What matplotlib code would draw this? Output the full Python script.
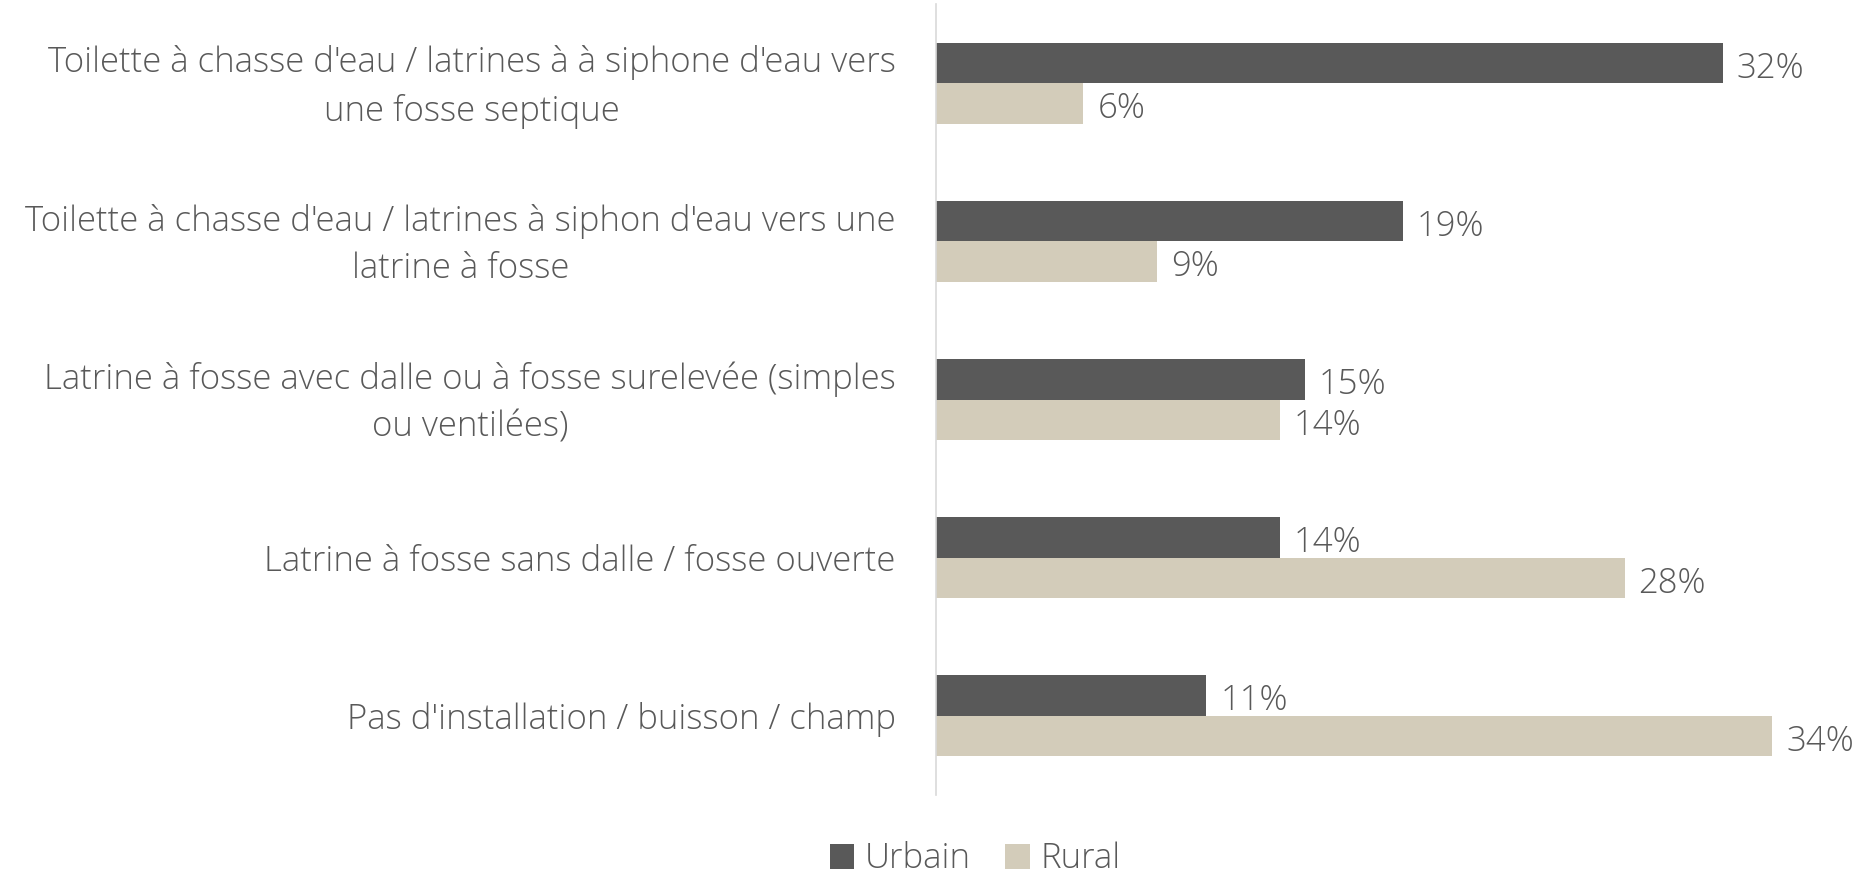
"""Horizontal grouped bars: type of sanitation facility, urban vs rural."""

import matplotlib

matplotlib.use("Agg")
import matplotlib.pyplot as plt
from matplotlib import font_manager
from matplotlib.transforms import ScaledTranslation
import numpy as np

CATEGORIES = [
    "Toilette à chasse d'eau / latrines à à siphone d'eau vers\nune fosse septique",
    "Toilette à chasse d'eau / latrines à siphon d'eau vers une\nlatrine à fosse",
    "Latrine à fosse avec dalle ou à fosse surelevée (simples\nou ventilées)",
    "Latrine à fosse sans dalle / fosse ouverte",
    "Pas d'installation / buisson / champ",
]
URBAIN = [32, 19, 15, 14, 11]
RURAL = [6, 9, 14, 28, 34]
SERIES = ["Urbain", "Rural"]

COLOR_URBAIN = "#595959"
COLOR_RURAL = "#D3CCBA"
TEXT_COLOR = "#595959"

# prefer a family that ships a light weight (closest to Segoe UI Light)
FAMILY = "DejaVu Sans"
for fam in ["Open Sans", "Lato", "Noto Sans", "Roboto", "Inter"]:
    weights = [f.weight for f in font_manager.fontManager.ttflist if f.name == fam]
    if any(isinstance(w, int) and w <= 300 for w in weights):
        FAMILY = fam
        break
else:
    names = {f.name for f in font_manager.fontManager.ttflist}
    if "Open Sans" in names:
        FAMILY = "Open Sans"

plt.rcParams["font.family"] = [FAMILY, "DejaVu Sans"]
plt.rcParams["font.weight"] = "light"

FS = 25

fig = plt.figure(figsize=(18.68, 8.75), dpi=100)
ax = fig.add_axes([0.501, 0.0914, 0.474, 0.904])

y = np.arange(len(CATEGORIES))
h = 0.256
bars_u = ax.barh(y - h / 2, URBAIN, height=h, color=COLOR_URBAIN, label=SERIES[0])
bars_r = ax.barh(y + h / 2, RURAL, height=h, color=COLOR_RURAL, label=SERIES[1])

for bars, vals in ((bars_u, URBAIN), (bars_r, RURAL)):
    for b, v in zip(bars, vals):
        ax.annotate(
            f"{v}%",
            (b.get_width(), b.get_y() + b.get_height() / 2),
            xytext=(10, -4),
            textcoords="offset points",
            ha="left",
            va="center",
            fontsize=FS,
            color=TEXT_COLOR,
            fontweight="light",
        )

ax.set_xlim(0, 36)
ax.set_ylim(len(CATEGORIES) - 0.5, -0.5)
ax.set_yticks(y)
ax.set_yticklabels(CATEGORIES, fontsize=FS, color=TEXT_COLOR, ha="right",
                   multialignment="center", fontweight="light", linespacing=1.5)
ax.tick_params(axis="y", length=0, pad=29)
# two-line labels sit a little low; nudge them up
for lbl in ax.get_yticklabels():
    if "\n" in lbl.get_text():
        lbl.set_transform(lbl.get_transform() + ScaledTranslation(0, 0.07, fig.dpi_scale_trans))
ax.set_xticks([])
for side in ("top", "right", "bottom"):
    ax.spines[side].set_visible(False)
ax.spines["left"].set_color("#D9D9D9")
ax.spines["left"].set_linewidth(1.2)

leg = fig.legend(
    handles=[bars_u, bars_r],
    labels=SERIES,
    loc="center",
    bbox_to_anchor=(0.522, 0.018),
    ncol=2,
    frameon=False,
    fontsize=FS,
    handlelength=0.7,
    handleheight=0.7,
    handletextpad=0.3,
    columnspacing=1.0,
)
for t in leg.get_texts():
    t.set_color(TEXT_COLOR)

fig.savefig("out.png", dpi=100)
